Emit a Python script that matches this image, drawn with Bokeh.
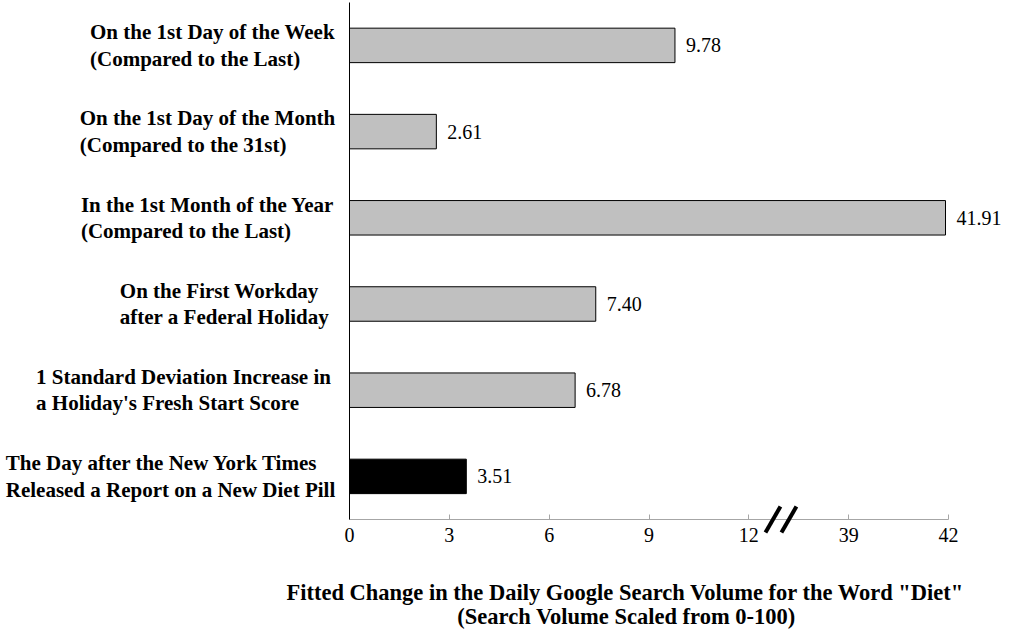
from bokeh.plotting import figure
from bokeh.models import ColumnDataSource, LabelSet, Label, Range1d, FixedTicker, Arrow, LinearAxis
from bokeh.embed import file_html
from bokeh.resources import INLINE

# ---- data ----
categories = [
    "On the 1st Day of the Week\n(Compared to the Last)",
    "On the 1st Day of the Month\n(Compared to the 31st)",
    "In the 1st Month of the Year\n(Compared to the Last)",
    "On the First Workday\nafter a Federal Holiday",
    "1 Standard Deviation Increase in\na Holiday's Fresh Start Score",
    "The Day after the New York Times\nReleased a Report on a New Diet Pill",
]
values = [9.78, 2.61, 41.91, 7.40, 6.78, 3.51]
value_labels = ["9.78", "2.61", "41.91", "7.40", "6.78", "3.51"]
bar_colors = ["#c0c0c0", "#c0c0c0", "#c0c0c0", "#c0c0c0", "#c0c0c0", "#000000"]
tick_values = [0, 3, 6, 9, 12, 39, 42]
tick_labels = ["0", "3", "6", "9", "12", "39", "42"]
x_title_lines = ['Fitted Change in the Daily Google Search Volume for the Word "Diet"',
                 "(Search Volume Scaled from 0-100)"]

# broken axis: values up to 12 are kept, values from 39 on are moved left
BREAK_LOW, BREAK_HIGH, GAP = 12, 39, 3


def fold(v):
    return v if v <= BREAK_LOW else v - (BREAK_HIGH - BREAK_LOW) + GAP


SERIF = "Liberation Serif"

# ---- layout (pixels) ----
W, H = 1010, 630
X0_PX = 349            # pixel of value 0
PX_PER_UNIT = 599 / 18.0
Y0_PX = 519            # pixel of the x axis
ROW_PX = 86.2
label_centers_px = [212, 207, 207, 224, 183, 170]


def dx(px):
    return (px - X0_PX) / PX_PER_UNIT


def dy(py):
    return (Y0_PX - py) / ROW_PX


n = len(categories)
ys = [n - i - 0.5 for i in range(n)]
src = ColumnDataSource(dict(
    y=ys,
    right=[fold(v) for v in values],
    color=bar_colors,
    vlabel=value_labels,
    cat=categories,
    catx=[dx(c) for c in label_centers_px],
))

p = figure(width=W, height=H, output_backend="svg", toolbar_location=None,
           x_range=Range1d(dx(0), dx(W)), y_range=Range1d(dy(H), dy(0)),
           x_axis_location=None, y_axis_location=None,
           min_border_left=0, min_border_right=0, min_border_top=0,
           min_border_bottom=0)
p.outline_line_color = None
p.xgrid.visible = False
p.ygrid.visible = False

p.hbar(y="y", left=0, right="right", height=0.4, fill_color="color",
       line_color="black", line_width=1, source=src)

p.add_layout(LabelSet(x="right", y="y", text="vlabel", source=src, x_offset=11,
                      text_baseline="middle", text_align="left",
                      text_font=SERIF, text_font_size="20px", text_color="black"))

p.add_layout(LabelSet(x="catx", y="y", text="cat", source=src,
                      text_baseline="middle", text_align="center",
                      text_font=SERIF, text_font_size="21px", text_font_style="bold",
                      text_color="black", text_line_height=1.1))

# x axis, drawn at value 0 of y
xa = LinearAxis(fixed_location=0, bounds=(0, fold(tick_values[-1])))
xa.ticker = FixedTicker(ticks=[fold(t) for t in tick_values])
xa.major_label_overrides = {fold(t): lab for t, lab in zip(tick_values, tick_labels)}
xa.axis_line_color = "#a6a6a6"
xa.major_tick_line_color = "#a6a6a6"
xa.major_tick_in = 5
xa.major_tick_out = 0
xa.minor_tick_line_color = None
xa.major_label_text_font = SERIF
xa.major_label_text_font_size = "20px"
xa.major_label_text_color = "black"
xa.major_label_standoff = 8
p.add_layout(xa, "below")

# y axis: only the black line at x = 0
ya = LinearAxis(fixed_location=0, bounds=(0, n + 0.0))
ya.ticker = FixedTicker(ticks=[])
ya.axis_line_color = "black"
ya.major_tick_line_color = None
ya.minor_tick_line_color = None
ya.major_label_text_font_size = "0px"
p.add_layout(ya, "left")

# axis break marker
bx = BREAK_LOW + 0.5
h = 13 / ROW_PX
for off in (0.0, 0.48):
    p.add_layout(Arrow(start=None, end=None, x_start=bx + off, y_start=-h,
                       x_end=bx + off + 0.45, y_end=h,
                       line_color="black", line_width=4))

for text, cx, cy in zip(x_title_lines, (625, 626), (592, 616)):
    p.add_layout(Label(x=dx(cx), y=dy(cy), text=text,
                       text_align="center", text_baseline="middle",
                       text_font=SERIF, text_font_size="22.5px", text_font_style="bold",
                       text_color="black"))

open("out.html", "w").write(file_html(p, INLINE))
